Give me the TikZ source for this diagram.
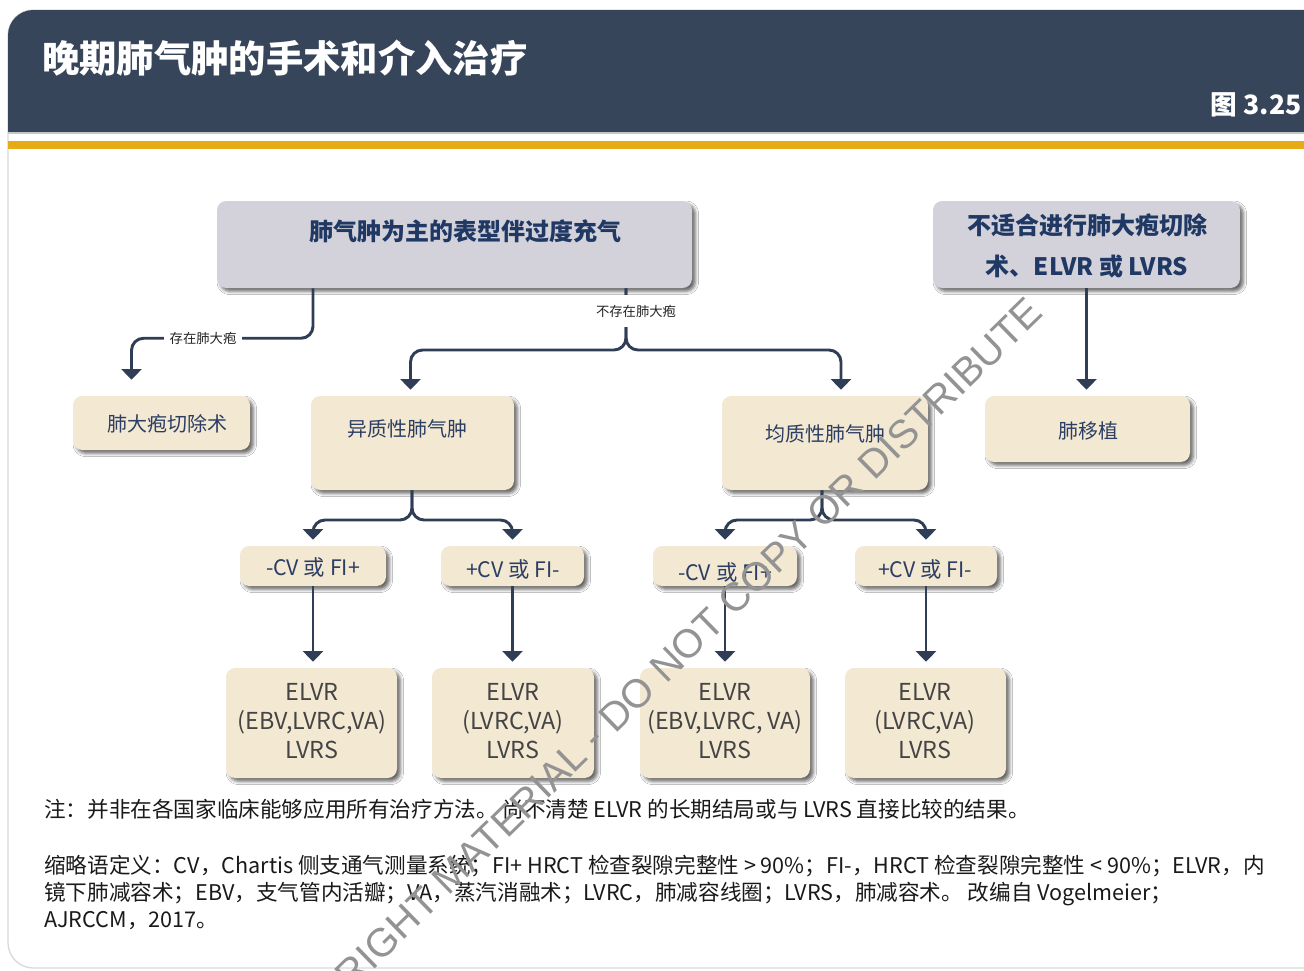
\documentclass[tikz,border=0pt]{standalone}
\usepackage{fontspec}
\setmainfont{Noto Sans CJK SC}
\newfontfamily\wmfont{Liberation Sans}
\usetikzlibrary{arrows.meta,shadows,shadows.blur,fit}
\definecolor{cHdr}{RGB}{55,69,90}
\definecolor{cGold}{RGB}{229,172,21}
\definecolor{cGray}{RGB}{211,209,217}
\definecolor{cCream}{RGB}{243,232,209}
\definecolor{cLine}{RGB}{47,62,86}
\definecolor{cNavy}{RGB}{31,56,100}
\definecolor{cText}{RGB}{44,62,100}
\definecolor{cDark}{RGB}{68,68,68}
\definecolor{cNote}{RGB}{26,26,26}
\begin{document}
\begin{tikzpicture}[x=0.75pt,y=-0.75pt,
  shad/.style={blur shadow={shadow xshift=2.5pt,shadow yshift=-2.5pt,shadow blur radius=2.5pt,shadow opacity=60}},
  boxg/.style={fill=cGray,rounded corners=7pt,inner sep=0pt,shad},
  boxc/.style={fill=cCream,rounded corners=7pt,inner sep=0pt,shad},
  conn/.style={draw=cLine,line width=2.2pt,rounded corners=9pt},
  arr/.style={conn,-{Triangle[width=15pt,length=8pt]}},
  lab/.style={fill=white,text=black!85,font=\fontsize{10}{12}\selectfont,inner xsep=4pt,inner ysep=3pt},
  hbold/.style={text=cNavy,font=\bfseries\fontsize{18}{31}\selectfont,align=center},
  ctext/.style={text=cText,font=\fontsize{15}{18}\selectfont},
  stext/.style={text=cText,font=\fontsize{16}{18}\selectfont},
  btext/.style={text=cDark,font=\fontsize{17.5}{22}\selectfont,align=center},
  note/.style={text=cNote,anchor=base west,font=\fontsize{16.2}{18}\selectfont,inner sep=0pt}]
\useasboundingbox (0,0) rectangle (1304,971);
\clip (0,0) rectangle (1304,971);
% slide frame
\draw[gray!30,line width=1pt,fill=white,rounded corners=19pt] (8,10) rectangle (1360,968);
% header
\fill[cHdr,rounded corners=19pt] (8,10) rectangle (1360,132);
\fill[cHdr] (8,90) rectangle (1360,132);
\fill[gray!45] (8,132) rectangle (1360,134);
\fill[cGold] (8,141) rectangle (1360,149);
\node[anchor=west,text=white,font=\bfseries\fontsize{28}{32}\selectfont,inner sep=0pt] (title) at (42,58) {晚期肺气肿的手术和介入治疗};
\node[anchor=east,text=white,font=\bfseries\fontsize{20}{24}\selectfont,inner sep=0pt] (fig) at (1302,105) {图 3.25};
% boxes
\node[boxg,fit={(217,201)(692,288)}] (top) {};
\node[hbold] (toptxt) at (465,231) {肺气肿为主的表型伴过度充气};
\node[boxg,fit={(933,201)(1240,288)}] (unfit) {};
\node[hbold] (unfittxt) at (1087,246) {不适合进行肺大疱切除\\术、ELVR 或 LVRS};
\node[boxc,fit={(73,396)(250,450)}] (bull) {};
\node[ctext] (bulltxt) at (167,424) {肺大疱切除术};
\node[boxc,fit={(311,396)(514,490)}] (het) {};
\node[ctext] (hettxt) at (407,429) {异质性肺气肿};
\node[boxc,fit={(722,396)(928,490)}] (hom) {};
\node[ctext] (homtxt) at (825,434) {均质性肺气肿};
\node[boxc,fit={(985,396)(1190,462)}] (tx) {};
\node[ctext] (txtxt) at (1088,431) {肺移植};
\node[boxc,fit={(240,546)(386,586)}] (s1) {};
\node[stext] (s1t) at (313,567) {-CV 或 FI+};
\node[boxc,fit={(441,546)(584,586)}] (s2) {};
\node[stext] (s2t) at (513,569) {+CV 或 FI-};
\node[boxc,fit={(653,546)(797,586)}] (s3) {};
\node[stext] (s3t) at (725,572) {-CV 或 FI+};
\node[boxc,fit={(855,546)(997,586)}] (s4) {};
\node[stext] (s4t) at (925,569) {+CV 或 FI-};
\node[boxc,fit={(226,668)(397,778)}] (b1) {};
\node[btext] (b1t) at (312,721) {ELVR\\(EBV,LVRC,VA)\\LVRS};
\node[boxc,fit={(432,668)(594,778)}] (b2) {};
\node[btext] (b2t) at (513,721) {ELVR\\(LVRC,VA)\\LVRS};
\node[boxc,fit={(640,668)(810,778)}] (b3) {};
\node[btext] (b3t) at (725,721) {ELVR\\(EBV,LVRC, VA)\\LVRS};
\node[boxc,fit={(845,668)(1006,778)}] (b4) {};
\node[btext] (b4t) at (925,721) {ELVR\\(LVRC,VA)\\LVRS};
% connectors
\coordinate (split1) at (626,350);
\coordinate (split2) at (412,520);
\coordinate (split3) at (822,520);
\draw[arr] (top.south -| s1) -- ++(0,50) -| ([xshift=-22.5pt,yshift=12pt]bull.north);
\node[lab] (l1) at (203,338) {存在肺大疱};
\draw[arr] (top.south -| split1) -- (split1) -| ([xshift=-1.5pt,yshift=4.5pt]het.north);
\draw[arr] (top.south -| split1) -- (split1) -| ([xshift=12pt,yshift=4.5pt]hom.north);
\node[lab,inner xsep=14pt,inner ysep=7pt] (l2) at (636,311) {不存在肺大疱};
\draw[arr] (unfit.south) -- ([yshift=4.5pt]unfit.south |- tx.north);
\draw[arr] (het.south -| split2) -- (split2) -| ([yshift=4.5pt]s1.north);
\draw[arr] (het.south -| split2) -- (split2) -| ([yshift=4.5pt]s2.north);
\draw[arr] (hom.south -| split3) -- (split3) -| ([yshift=4.5pt]s3.north);
\draw[arr] (hom.south -| split3) -- (split3) -| ([yshift=4.5pt]s4.north);
\draw[arr] (s1.south) -- ([yshift=4.5pt]s1.south |- b1.north);
\draw[arr] (s2.south) -- ([yshift=4.5pt]s2.south |- b2.north);
\draw[arr] (s3.south) -- ([yshift=4.5pt]s3.south |- b3.north);
\draw[arr] (s4.south) -- ([yshift=4.5pt]s4.south |- b4.north);
% notes
\node[note] (n1) at (44,817) {注：并非在各国家临床能够应用所有治疗方法。 尚不清楚 ELVR 的长期结局或与 LVRS 直接比较的结果。};
\node[note] (n2) at (44,873) {缩略语定义：CV，Chartis 侧支通气测量系统；FI+ HRCT 检查裂隙完整性 > 90\%；FI-，HRCT 检查裂隙完整性 < 90\%；ELVR，内};
\node[note] (n3) at (44,900) {镜下肺减容术；EBV，支气管内活瓣；VA，蒸汽消融术；LVRC，肺减容线圈；LVRS，肺减容术。 改编自 Vogelmeier；};
\node[note] (n4) at (44,927) {AJRCCM，2017。};
% watermark
\node[rotate=44.3,text=gray!85,font=\wmfont\fontsize{30}{32}\selectfont] (wm) at (648,683) {COPYRIGHT MATERIAL - DO NOT COPY OR DISTRIBUTE};
\end{tikzpicture}
\end{document}
